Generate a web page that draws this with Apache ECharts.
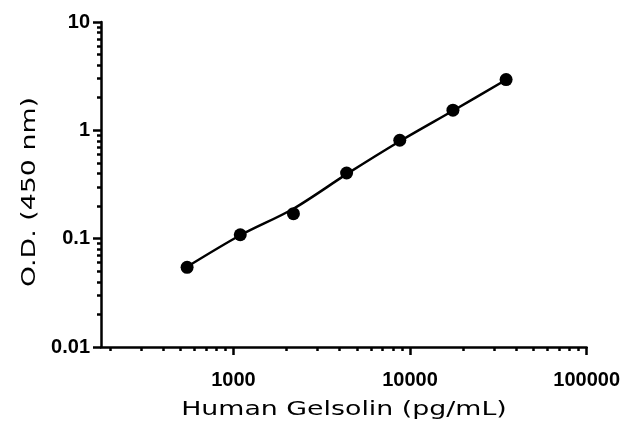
<!DOCTYPE html>
<html>
<head>
<meta charset="utf-8">
<script src="https://cdn.jsdelivr.net/npm/echarts@6/dist/echarts.min.js"></script>
<style>
html,body{margin:0;padding:0;background:#fff;}
#chart{width:623px;height:424px;}
</style>
</head>
<body>
<div id="chart"></div>
<script>
// Data
var concentrations = [546.875, 1093.75, 2187.5, 4375, 8750, 17500, 35000];
var odValues = [0.0544, 0.1087, 0.170, 0.404, 0.81, 1.535, 2.94];
// fitted curve at the standard concentrations
var curveOd = [0.055, 0.1075, 0.189, 0.394, 0.793, 1.517, 2.93];
var xMajorTicks = [1000, 10000, 100000];
var xMinorTicks = [200,300,400,500,600,700,800,900,2000,3000,4000,5000,6000,7000,8000,9000,20000,30000,40000,50000,60000,70000,80000,90000];
var yMajorTicks = [0.01, 0.1, 1, 10];
var yMinorTicks = [0.02,0.03,0.04,0.05,0.06,0.07,0.08,0.09,0.2,0.3,0.4,0.5,0.6,0.7,0.8,0.9,2,3,4,5,6,7,8,9];
var xTitle = 'Human Gelsolin (pg/mL)';
var yTitle = 'O.D. (450 nm)';

var points = concentrations.map(function (c, i) { return [c, odValues[i]]; });
var curve = concentrations.map(function (c, i) { return [c, curveOd[i]]; });

var chart = echarts.init(document.getElementById('chart'), null, {renderer: 'canvas'});
var titleFontCss = '20px "DejaVu Sans"';

chart.setOption({
  backgroundColor: '#fff',
  animation: false,
  grid: {left: 101, right: 36, top: 22, bottom: 77, containLabel: false},
  xAxis: [{
    type: 'log', logBase: 10, min: 178, max: 100000,
    axisLine: {show: true, lineStyle: {color: '#000', width: 2.5}},
    axisTick: {show: true, length: 8, lineStyle: {color: '#000', width: 2.5}, customValues: xMajorTicks},
    axisLabel: {show: true, margin: 23, customValues: xMajorTicks, formatter: function (v) { return String(v); }, fontFamily: 'Liberation Sans', fontWeight: 'bold', fontSize: 20, color: '#000'},
    splitLine: {show: false}, minorTick: {show: false}
  }, {
    type: 'log', logBase: 10, min: 178, max: 100000, position: 'bottom',
    axisLine: {show: false},
    axisTick: {show: true, length: 4, lineStyle: {color: '#000', width: 2.5}, customValues: xMinorTicks},
    axisLabel: {show: false},
    splitLine: {show: false}
  }],
  yAxis: [{
    type: 'log', logBase: 10, min: 0.01, max: 10,
    axisLine: {show: true, lineStyle: {color: '#000', width: 2.5}},
    axisTick: {show: true, length: 8, lineStyle: {color: '#000', width: 2.5}, customValues: yMajorTicks},
    axisLabel: {show: true, margin: 11, customValues: yMajorTicks, formatter: function (v) { return String(v); }, fontFamily: 'Liberation Sans', fontWeight: 'bold', fontSize: 20, color: '#000'},
    splitLine: {show: false}
  }, {
    type: 'log', logBase: 10, min: 0.01, max: 10, position: 'left',
    axisLine: {show: false},
    axisTick: {show: true, length: 4, lineStyle: {color: '#000', width: 2.5}, customValues: yMinorTicks},
    axisLabel: {show: false},
    splitLine: {show: false}
  }],
  graphic: [{
    type: 'text', x: 344, y: 410, scaleX: 1.34,
    style: {text: xTitle, font: titleFontCss, fill: '#000', align: 'center', verticalAlign: 'middle'}
  }, {
    type: 'text', x: 30, y: 192, rotation: Math.PI / 2, scaleX: 1.34,
    style: {text: yTitle, font: titleFontCss, fill: '#000', align: 'center', verticalAlign: 'middle'}
  }],
  series: [{
    type: 'line', data: curve, smooth: 0.3, symbol: 'none',
    lineStyle: {color: '#000', width: 2.5}, z: 2
  }, {
    type: 'scatter', data: points, symbol: 'circle', symbolSize: 13,
    itemStyle: {color: '#000', opacity: 1}, z: 3
  }]
});
</script>
</body>
</html>
